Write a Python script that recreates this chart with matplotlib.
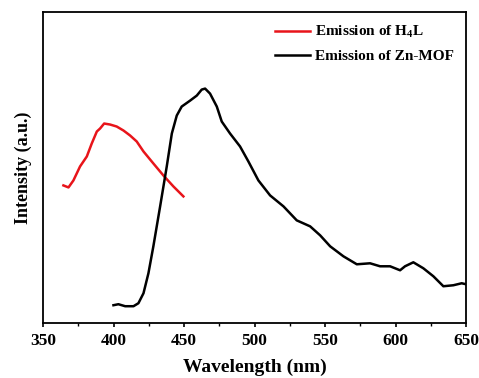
import numpy as np
import matplotlib.pyplot as plt
from matplotlib.ticker import MultipleLocator

plt.rcParams["font.family"] = "Liberation Serif"
plt.rcParams["font.weight"] = "bold"
plt.rcParams["mathtext.fontset"] = "custom"
plt.rcParams["mathtext.rm"] = "Liberation Serif:bold"
plt.rcParams["mathtext.it"] = "Liberation Serif:bold"
plt.rcParams["mathtext.bf"] = "Liberation Serif:bold"

# ligand emission (arbitrary units)
wl_ligand = [364.4, 368.0, 371.5, 376.2, 381.0, 384.5, 388.1, 390.4, 393.3, 397.5,
             402.2, 407.0, 411.7, 416.4, 421.2, 428.2, 435.3, 442.4, 449.5]
int_ligand = [138, 136, 143, 157, 167, 180, 192, 195, 200, 199,
              197, 193, 188, 182, 172, 160, 148, 137, 127]

# Zn-MOF emission
wl_mof = [399.9, 403.4, 408.2, 414.1, 417.6, 421.2, 424.7, 428.2, 433.0, 437.7,
          441.3, 444.8, 448.3, 454.3, 459.0, 462.5, 464.9, 468.4, 473.2, 476.7,
          482.6, 489.7, 495.6, 502.7, 511.0, 520.5, 529.9, 539.4, 546.5, 553.6,
          563.0, 572.5, 581.9, 589.0, 596.1, 603.2, 606.7, 612.6, 619.7, 626.8,
          633.9, 641.0, 646.9, 650.0]
int_mof = [18, 19, 17, 17, 20, 30, 50, 77, 117, 157,
           190, 208, 217, 223, 228, 234, 235, 230, 217, 202,
           190, 177, 162, 143, 128, 117, 103, 97, 88, 77,
           67, 59, 60, 57, 57, 53, 57, 61, 55, 47,
           37, 38, 40, 39]

fig = plt.figure(figsize=(4.79, 3.78), dpi=100)
ax = fig.add_axes([0.09, 0.145, 0.883, 0.824])

ax.plot(wl_ligand, int_ligand, color="#e8141a", lw=1.8, label=r"Emission of H$_4$L")
ax.plot(wl_mof, int_mof, color="black", lw=1.8, label="Emission of Zn-MOF")

ax.set_xlim(350, 650)
ax.set_ylim(0, 312)
ax.xaxis.set_major_locator(MultipleLocator(50))
ax.xaxis.set_minor_locator(MultipleLocator(25))
ax.set_yticks([])
ax.tick_params(axis="x", which="major", direction="out", length=3, width=1.2,
               labelsize=12.5, pad=4)
ax.tick_params(axis="x", which="minor", direction="out", length=2, width=1)
for s in ax.spines.values():
    s.set_linewidth(1.3)

ax.set_xlabel("Wavelength (nm)", fontsize=14, fontweight="bold", labelpad=7)
ax.set_ylabel("Intensity (a.u.)", fontsize=13, fontweight="bold", labelpad=8)

ax.legend(loc="upper right", frameon=False, handlelength=2.3,
          handletextpad=0.3, labelspacing=0.6, borderaxespad=0.4,
          prop={"weight": "bold", "size": 11})

fig.savefig("out.png", dpi=100)
